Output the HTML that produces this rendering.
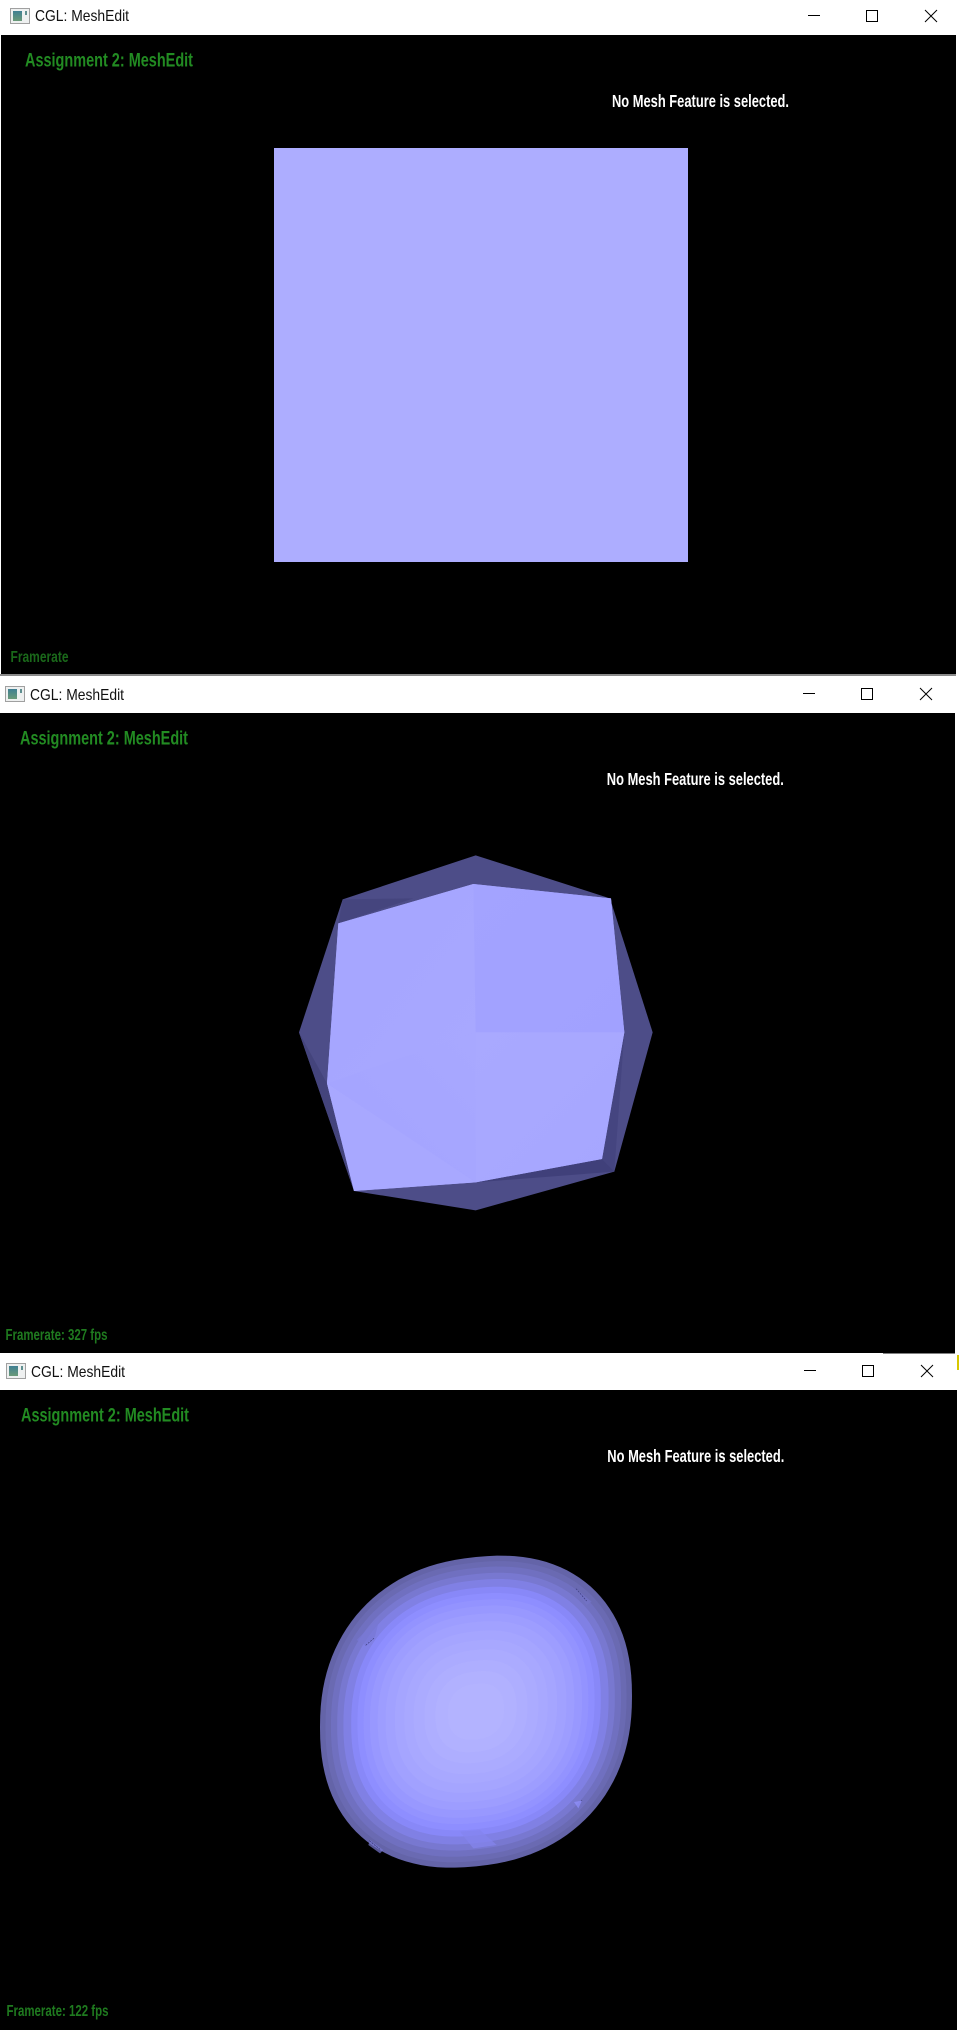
<!DOCTYPE html>
<html lang="en">
<head>
<meta charset="utf-8">
<title>CGL: MeshEdit screenshots</title>
<style>
html,body{margin:0;padding:0;background:#fff;width:961px;height:2030px;overflow:hidden}
svg{display:block}
text{font-family:"Liberation Sans",sans-serif}
.title{font-size:16px;fill:#111}
.head{font-size:19px;font-weight:bold;fill:#228b22}
.sel{font-size:17.5px;font-weight:bold;fill:#fff}
.fps{font-size:15.5px;font-weight:bold;fill:#1f7a1f}
</style>
</head>
<body>
<svg id="root" xmlns="http://www.w3.org/2000/svg" width="961" height="2030" viewBox="0 0 961 2030">
<defs>
  <linearGradient id="ic" x1="0" y1="0" x2="0" y2="1"><stop offset="0" stop-color="#3f7f92"/><stop offset="1" stop-color="#6a9a78"/></linearGradient>
  <linearGradient id="tl" x1="0" y1="0" x2="1" y2="1"><stop offset="0" stop-color="#a5a5ff"/><stop offset="1" stop-color="#a8a8ff"/></linearGradient>
  <linearGradient id="tr" x1="0" y1="0" x2="1" y2="1"><stop offset="0" stop-color="#a3a3ff"/><stop offset="1" stop-color="#a1a1ff"/></linearGradient>
  <linearGradient id="br" x1="0" y1="0" x2="1" y2="1"><stop offset="0" stop-color="#a9a9ff"/><stop offset="1" stop-color="#a6a6ff"/></linearGradient>
  <linearGradient id="bl" x1="1" y1="0" x2="0" y2="1"><stop offset="0" stop-color="#a8a8ff"/><stop offset="1" stop-color="#a3a3ff"/></linearGradient>
</defs>

<!-- Window 1 -->
<g>
  <rect x="1" y="35" width="955" height="639" fill="#000"/>
  <rect x="0" y="674" width="956" height="2" fill="#8a8a8a"/>
  <g><rect x="10.5" y="8.5" width="19" height="15" fill="#eef0f0" stroke="#a0a0a0"/><rect x="13" y="11" width="9" height="10" fill="url(#ic)"/><rect x="25" y="11" width="2" height="4" fill="#5f8f90"/></g>
  <text class="title" x="35" y="21" textLength="94" lengthAdjust="spacingAndGlyphs">CGL: MeshEdit</text>
  <g stroke="#000" fill="none" stroke-width="1">
    <path d="M808 15.5H820"/>
    <rect x="866.5" y="10.5" width="11" height="11"/>
    <path d="M925 10L937 22M937 10L925 22"/>
  </g>
  <text class="head" x="25" y="66.5" textLength="168" lengthAdjust="spacingAndGlyphs">Assignment 2: MeshEdit</text>
  <text class="sel" x="612" y="107" textLength="177" lengthAdjust="spacingAndGlyphs">No Mesh Feature is selected.</text>
  <rect x="274" y="148" width="414" height="414" fill="#adadff"/>
  <text class="fps" x="10.5" y="662" textLength="58" lengthAdjust="spacingAndGlyphs" fill-opacity=".85">Framerate</text>
</g>

<!-- Window 2 -->
<g>
  <rect x="0" y="713" width="955" height="640" fill="#000"/>
  <g><rect x="5.5" y="686.5" width="19" height="15" fill="#eef0f0" stroke="#a0a0a0"/><rect x="8" y="689" width="9" height="10" fill="url(#ic)"/><rect x="20" y="689" width="2" height="4" fill="#5f8f90"/></g>
  <text class="title" x="30" y="700" textLength="94" lengthAdjust="spacingAndGlyphs">CGL: MeshEdit</text>
  <g stroke="#000" fill="none" stroke-width="1">
    <path d="M803 693.5H815"/>
    <rect x="861.5" y="688.5" width="11" height="11"/>
    <path d="M920 688L932 700M932 688L920 700"/>
  </g>
  <text class="head" x="20" y="744.5" textLength="168" lengthAdjust="spacingAndGlyphs">Assignment 2: MeshEdit</text>
  <text class="sel" x="606.8" y="785" textLength="177" lengthAdjust="spacingAndGlyphs">No Mesh Feature is selected.</text>
  <g transform="translate(280 830) scale(.33333)">
    <polygon points="587,76 990,205 1118,607 1003,1025 587,1141 222,1083 57,607 188,208" fill="#4d4d88"/>
    <polygon points="188,208 400,205 175,280" fill="#45457e"/>
    <polygon points="57,607 141,760 222,1083" fill="#44447c"/>
    <polygon points="1033,607 1003,1025 966,987" fill="#454580"/>
    <polygon points="587,1057 966,987 1003,1025" fill="#40407a"/>
    <polygon points="175,280 580,162 993,205 1033,607 966,987 587,1057 222,1083 141,760" fill="#a6a6ff"/>
    <polygon points="175,280 580,162 587,607 141,760" fill="url(#tl)"/>
    <polygon points="580,162 993,205 1033,607 587,607" fill="url(#tr)"/>
    <polygon points="587,607 1033,607 966,987 587,1057" fill="url(#br)"/>
    <polygon points="141,760 587,607 587,1057" fill="url(#bl)"/>
    <polygon points="141,760 587,1057 222,1083" fill="#a8a8ff"/>
  </g>
  <text class="fps" x="5.5" y="1340" textLength="102" lengthAdjust="spacingAndGlyphs">Framerate: 327 fps</text>
  <rect x="883" y="1353" width="72" height="1" fill="#808080"/>
</g>

<!-- Window 3 -->
<g>
  <rect x="0" y="1390" width="957" height="640" fill="#000"/>
  <rect x="957" y="1355" width="2" height="15" fill="#d8c800"/>
  <g><rect x="6.5" y="1363.5" width="19" height="15" fill="#eef0f0" stroke="#a0a0a0"/><rect x="9" y="1366" width="9" height="10" fill="url(#ic)"/><rect x="21" y="1366" width="2" height="4" fill="#5f8f90"/></g>
  <text class="title" x="31" y="1377" textLength="94" lengthAdjust="spacingAndGlyphs">CGL: MeshEdit</text>
  <g stroke="#000" fill="none" stroke-width="1">
    <path d="M804 1370.5H816"/>
    <rect x="862.5" y="1365.5" width="11" height="11"/>
    <path d="M921 1365L933 1377M933 1365L921 1377"/>
  </g>
  <text class="head" x="21" y="1421.5" textLength="168" lengthAdjust="spacingAndGlyphs">Assignment 2: MeshEdit</text>
  <text class="sel" x="607.3" y="1462" textLength="177" lengthAdjust="spacingAndGlyphs">No Mesh Feature is selected.</text>
  <g id="blob" transform="translate(300 1530) scale(.33333)"></g>
  <text class="fps" x="6.5" y="2016" textLength="102" lengthAdjust="spacingAndGlyphs">Framerate: 122 fps</text>
</g>
</svg>
<script>
var bandScales = [1,.965,.93,.89,.85,.8,.76,.72,.68,.63,.58,.52,.46,.4,.33,.26,.18];
var bandColors = ['#6464a8','#6a6ab2','#7070c0','#7878d0','#8080e4','#8888f8','#8e8eff','#9393ff','#9898ff','#9d9dff','#a1a1ff','#a5a5ff','#a8a8ff','#ababff','#aeaeff','#b1b1ff','#b3b3ff'];
var patchShapes = ['170,330 240,260 225,320 195,345','480,905 540,900 590,945 520,955','822,816 846,812 835,835','210,930 250,960 240,970 205,945','826,175 875,215 860,225'];
var patchColors = ['#7878d4','#8484ee','#9292ff','#7878d0','#7474c8'];
var NS = 'http://www.w3.org/2000/svg';
var blob = document.getElementById('blob');
function outlinePath(s){
  var cx = 528, cy = 545, a = 468, b = 464, n = 2.25 + (1 - s) * 0.2, k = .1, d = '';
  for (var i = 0; i < 120; i++) {
    var t = i / 120 * 2 * Math.PI, c = Math.cos(t), e = Math.sin(t);
    var x = a * s * (c < 0 ? -1 : 1) * Math.pow(Math.abs(c), 2 / n);
    var y = b * s * (e < 0 ? -1 : 1) * Math.pow(Math.abs(e), 2 / n);
    d += (i ? 'L' : 'M') + (cx + x).toFixed(1) + ' ' + (cy + y - k * x).toFixed(1);
  }
  return d + 'Z';
}
bandScales.forEach(function(s, i){
  var el = document.createElementNS(NS, 'path');
  el.setAttribute('d', outlinePath(s));
  el.setAttribute('fill', bandColors[i]);
  
  
  blob.appendChild(el);
});
patchShapes.forEach(function(pts, i){
  var el = document.createElementNS(NS, 'polygon');
  el.setAttribute('points', pts);
  el.setAttribute('fill', patchColors[i]);
  el.setAttribute('fill-opacity', '.7');
  
  
  blob.appendChild(el);
});
var marks = ['M197 346L224 323','M828 176L860 213','M208 932L240 958','M844 811L846 813'];
marks.forEach(function(m){
  var el = document.createElementNS(NS, 'path');
  el.setAttribute('d', m);
  el.setAttribute('stroke', '#3a3a78');
  el.setAttribute('stroke-width', '2');
  el.setAttribute('stroke-dasharray', '6 3');
  el.setAttribute('fill', 'none');
  
  
  blob.appendChild(el);
});
</script>
</body>
</html>
